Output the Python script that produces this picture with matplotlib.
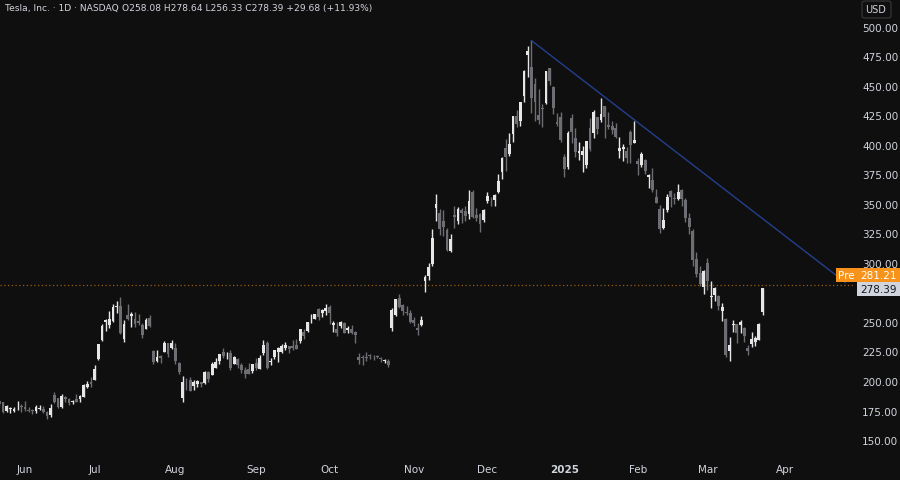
import numpy as np
import pandas as pd
import matplotlib.pyplot as plt
from matplotlib.patches import FancyBboxPatch

# daily OHLC, 22 May 2024 .. 24 Mar 2025 (one row per month in each list)
opens = [
    182.85, 181.80, 174.84, 176.40, 174.19, 178.58, 178.50,
    178.13, 174.78, 175.35, 174.60, 176.13, 176.06, 173.92, 171.12, 188.39, 185.80, 177.92, 186.56, 184.68, 182.30, 184.97, 184.40, 186.54, 195.17, 199.55,
    201.02, 218.89, 234.56, 249.81, 247.71, 251.00, 262.80, 263.30, 235.80, 255.97, 255.31, 252.73, 251.09, 247.79, 244.21, 253.60, 225.42, 216.80, 221.19, 224.90, 232.25, 227.90,
    227.69, 214.88, 185.22, 200.75, 200.77, 195.70, 197.05, 199.02, 198.47, 207.39, 205.02, 211.15, 217.07, 224.88, 222.67, 223.82, 214.46, 218.75, 213.25, 209.72, 209.80, 208.63,
    215.26, 210.59, 223.49, 232.60, 216.20, 220.07, 224.55, 224.66, 228.00, 229.30, 229.45, 230.09, 234.00, 241.52, 242.61, 254.08, 252.54, 260.60, 257.38, 259.04,
    262.67, 247.55, 244.48, 246.69, 249.00, 243.56, 243.82, 241.81, 220.13, 220.13, 220.01, 221.40, 221.59, 220.71, 218.90, 217.31, 217.13, 244.68, 256.01, 270.00, 264.51, 258.04, 257.99,
    252.04, 244.56, 247.34, 284.67, 288.89, 299.14, 346.30, 342.74, 335.85, 327.69, 310.57, 340.73, 335.76, 345.00, 343.81, 341.09, 360.14, 341.00, 341.80, 336.08,
    352.38, 351.80, 353.00, 359.87, 377.42, 397.61, 392.68, 409.70, 424.84, 420.00, 441.09, 475.90, 466.50, 451.88, 425.51, 431.00, 435.90, 465.16, 449.52, 419.40, 423.79,
    390.10, 381.48, 423.20, 405.83, 392.95, 391.40, 383.21, 414.34, 409.90, 423.49, 421.50, 432.64, 416.81, 416.06, 414.45, 394.80, 396.91, 395.21, 410.78, 401.53,
    386.68, 382.63, 387.51, 373.03, 370.19, 356.21, 345.80, 329.94, 345.00, 360.62, 355.01, 354.00, 361.51, 353.44, 338.14, 327.02, 303.71, 291.16, 279.50,
    300.34, 270.93, 272.92, 272.06, 259.32, 252.54, 225.31, 247.22, 248.13, 247.31, 245.06, 228.16, 231.61, 233.35, 234.99, 258.08,
]
highs = [
    183.80, 181.90, 180.08, 178.25, 178.15, 182.67, 180.32,
    182.64, 177.76, 176.15, 179.73, 179.35, 178.57, 174.75, 180.55, 191.08, 186.00, 188.81, 187.20, 185.21, 183.95, 188.80, 187.97, 197.76, 199.84, 203.20,
    213.23, 231.30, 248.35, 252.37, 259.44, 265.61, 267.59, 271.00, 251.84, 265.60, 258.62, 258.47, 257.14, 249.44, 253.21, 255.76, 225.99, 226.00, 222.28, 234.27, 232.41, 234.68,
    231.87, 216.13, 203.88, 202.90, 203.49, 200.70, 200.88, 199.26, 208.49, 208.44, 215.88, 219.80, 222.98, 228.22, 224.66, 225.99, 221.48, 219.09, 215.66, 211.84, 214.89, 214.57,
    219.90, 222.22, 235.00, 233.60, 219.87, 226.40, 228.47, 231.45, 232.67, 229.96, 234.57, 235.68, 244.24, 243.99, 250.00, 257.19, 257.05, 261.75, 260.70, 264.86,
    263.98, 251.16, 249.79, 250.96, 249.83, 246.21, 247.43, 242.79, 223.34, 221.91, 224.26, 222.82, 222.08, 222.28, 220.48, 218.22, 218.72, 262.12, 269.49, 273.54, 264.98, 263.35, 259.75,
    254.00, 248.90, 255.28, 289.59, 299.75, 328.71, 358.64, 345.84, 344.60, 329.98, 324.68, 348.55, 347.38, 346.60, 347.99, 361.53, 361.93, 346.96, 342.55, 345.45,
    360.00, 355.69, 358.10, 375.43, 389.49, 404.80, 409.73, 424.88, 429.30, 436.30, 463.19, 483.99, 488.54, 456.36, 447.08, 434.51, 462.78, 465.33, 450.00, 427.00, 427.93,
    392.73, 411.88, 426.43, 414.33, 402.50, 399.28, 403.79, 422.64, 429.80, 424.00, 439.74, 433.20, 428.00, 420.73, 418.88, 406.69, 400.59, 398.59, 412.50, 419.99,
    389.17, 394.00, 388.39, 375.40, 380.55, 362.70, 349.37, 346.40, 358.69, 362.00, 359.10, 367.34, 362.30, 354.98, 342.40, 328.89, 309.00, 297.23, 293.88,
    303.94, 284.35, 279.55, 272.65, 266.25, 253.37, 237.06, 251.84, 248.29, 251.58, 245.40, 230.10, 241.41, 238.00, 249.52, 278.64,
]
lows = [
    178.12, 173.26, 173.73, 173.16, 173.93, 175.38, 173.82,
    174.49, 174.00, 172.13, 172.73, 175.58, 173.17, 167.41, 169.80, 181.23, 176.92, 177.00, 182.37, 179.66, 180.69, 182.20, 182.01, 186.36, 194.20, 195.26,
    200.85, 218.06, 234.25, 242.46, 244.57, 250.30, 257.86, 239.65, 233.09, 251.73, 245.80, 246.18, 247.20, 236.83, 243.75, 245.63, 214.71, 216.23, 215.33, 224.70, 220.00, 226.79,
    214.33, 205.78, 182.00, 192.67, 191.48, 192.04, 195.11, 194.67, 197.06, 198.75, 204.82, 210.80, 214.09, 219.56, 218.86, 209.11, 214.21, 211.01, 206.94, 202.59, 205.97, 207.03,
    209.64, 210.57, 222.25, 210.51, 213.67, 218.64, 216.48, 223.83, 226.32, 223.53, 226.55, 226.88, 232.13, 235.92, 241.92, 249.05, 252.28, 251.53, 254.12, 255.77,
    248.53, 241.50, 237.81, 244.58, 240.70, 240.56, 239.51, 232.34, 214.38, 213.74, 217.12, 218.93, 217.90, 219.23, 215.73, 215.26, 212.11, 242.65, 255.32, 262.24, 255.51, 255.82, 249.25,
    246.63, 238.88, 246.21, 275.62, 285.52, 297.66, 336.00, 323.31, 322.50, 310.37, 309.22, 330.01, 332.75, 334.30, 335.28, 337.70, 338.20, 335.66, 326.59, 334.65,
    351.15, 348.20, 348.60, 359.50, 370.80, 378.01, 390.85, 402.38, 415.00, 415.71, 436.15, 457.51, 427.01, 420.02, 417.64, 415.41, 435.14, 451.02, 426.50, 415.75, 402.54,
    373.04, 379.45, 401.70, 390.00, 387.40, 377.29, 380.07, 394.54, 405.66, 409.13, 419.75, 406.31, 413.36, 408.95, 405.78, 389.00, 386.50, 384.48, 384.41, 401.34,
    374.36, 381.40, 375.53, 363.18, 360.34, 350.51, 325.10, 329.12, 342.85, 347.50, 350.02, 353.67, 348.00, 334.42, 324.70, 297.25, 288.04, 280.88, 273.60,
    277.30, 261.84, 267.71, 260.02, 250.73, 220.00, 217.02, 241.10, 232.60, 240.73, 232.80, 222.28, 229.20, 230.05, 234.55, 256.33,
]
closes = [
    180.11, 173.74, 179.24, 176.75, 176.19, 178.79, 178.08,
    176.29, 174.77, 175.00, 177.94, 177.48, 173.79, 170.66, 177.29, 182.47, 178.01, 187.44, 184.86, 181.57, 183.01, 182.58, 187.35, 196.37, 197.42, 197.88,
    209.86, 231.26, 246.39, 251.52, 252.94, 262.33, 263.26, 241.03, 248.23, 252.64, 256.56, 248.50, 249.23, 239.20, 251.51, 246.38, 215.99, 220.25, 219.80, 232.10, 222.62, 232.07,
    216.86, 207.67, 198.88, 200.64, 191.76, 198.84, 200.00, 197.49, 207.83, 201.38, 214.14, 216.12, 222.72, 221.10, 223.27, 210.66, 220.32, 213.21, 209.21, 205.75, 206.28, 214.11,
    210.60, 219.41, 230.17, 210.73, 216.27, 226.17, 228.13, 229.81, 230.29, 226.78, 227.87, 227.20, 243.92, 238.25, 250.00, 254.27, 257.02, 254.22, 260.46, 261.63,
    258.02, 249.02, 240.66, 250.08, 240.83, 244.50, 241.05, 238.77, 217.80, 219.16, 219.57, 221.33, 220.89, 220.70, 218.85, 217.97, 213.65, 260.48, 269.19, 262.51, 259.52, 257.55, 249.85,
    248.98, 242.84, 251.44, 288.53, 296.91, 321.22, 350.00, 328.49, 330.24, 311.18, 320.72, 338.74, 346.00, 342.03, 339.64, 352.56, 338.59, 338.23, 332.89, 345.16,
    357.09, 351.42, 357.93, 369.49, 389.22, 389.79, 400.99, 424.77, 418.10, 436.23, 463.02, 479.86, 440.13, 436.17, 421.06, 430.60, 462.28, 454.13, 431.66, 417.41, 403.84,
    379.28, 410.44, 411.05, 394.36, 394.94, 394.74, 403.31, 396.36, 428.22, 413.82, 426.50, 424.07, 415.11, 412.38, 406.58, 397.15, 398.09, 389.10, 400.28, 404.60,
    383.68, 392.21, 378.17, 374.32, 361.62, 350.73, 328.50, 336.51, 355.94, 355.84, 354.11, 360.56, 354.40, 337.80, 330.53, 302.80, 290.80, 281.95, 292.98,
    284.65, 272.04, 279.10, 263.45, 262.67, 222.15, 230.58, 248.09, 240.68, 249.98, 238.01, 225.31, 235.86, 236.26, 248.71, 278.39,
]

holidays = ["2024-05-27", "2024-06-19", "2024-07-04", "2024-09-02", "2024-11-28",
            "2024-12-25", "2025-01-01", "2025-01-09", "2025-01-20", "2025-02-17"]
dates = pd.bdate_range("2024-05-22", "2025-03-24")
dates = dates[~dates.isin(pd.to_datetime(holidays))]

month_labels = ["Jun", "Jul", "Aug", "Sep", "Oct", "Nov", "Dec", "2025", "Feb", "Mar", "Apr"]
price_ticks = [150, 175, 200, 225, 250, 300, 325, 350, 375, 400, 425, 450, 475, 500]  # 275 hidden by last-price tag

pre_price = 281.21
trend_start = ("2024-12-18", 488.54)
trend_end_price = 283.5
name_txt = "Tesla, Inc. · 1D · NASDAQ"
ohlc_txt = "O258.08 H278.64 L256.33 C278.39 +29.68 (+11.93%)"

o = np.array(opens); h = np.array(highs); l = np.array(lows); c = np.array(closes)
assert len(o) == len(dates) == len(c)

# bar index, Jun 3 2024 = 0
x = np.arange(len(dates)) - int(np.argmax(dates >= "2024-06-03"))

BG = "#0f0f0f"
UP = "#e6e6e6"
DOWN = "#6c6e74"
TXT = "#d1d4dc"

fig = plt.figure(figsize=(9, 4.81), dpi=100, facecolor=BG)
ax = fig.add_axes([0, 23 / 481, 855 / 900, 458 / 481])
ax.set_facecolor(BG)

up = c >= o
cols = np.where(up, UP, DOWN)
ax.vlines(x, l, h, colors=cols, linewidth=1.0, zorder=2)
body_lo = np.minimum(o, c)
body_h = np.maximum(np.abs(c - o), 0.5)
ax.bar(x, body_h, bottom=body_lo, width=0.78, color=cols, linewidth=0, zorder=3)

# trend line from the December high
x0 = x[list(dates).index(pd.Timestamp(trend_start[0]))]
ax.plot([x0, 223.6], [trend_start[1], trend_end_price], color="#23408e", lw=1.0, zorder=4)

# pre-market price line
ax.axhline(pre_price, color="#f7931a", alpha=0.6, lw=0.9, ls=(0, (1, 2)), zorder=1)

ax.set_xlim(-6.8, 226.2)
ax.set_ylim(135.6, 523.7)

# month ticks at the first trading day of each month
mstart = [0]
for i in range(1, len(dates)):
    if dates[i].month != dates[i - 1].month:
        mstart.append(i)
mx = list(x[mstart[1:]])  # skip partial May
mx.append(x[-1] + 6)  # Apr 1
ax.set_xticks(mx)
ax.set_xticklabels(month_labels)
for lab in ax.get_xticklabels():
    if lab.get_text() == "2025":
        lab.set_fontweight("bold")

ax.yaxis.tick_right()
ax.set_yticks(price_ticks)
ax.set_yticklabels([f"{v:.2f}" for v in price_ticks])
ax.tick_params(axis="both", length=0, colors=TXT, labelsize=7.5)
ax.tick_params(axis="y", pad=5)
ax.tick_params(axis="x", pad=5)
for s in ax.spines.values():
    s.set_visible(False)

# header
fig.text(5 / 900, 1 - 9 / 481, name_txt, color=TXT, fontsize=6.6, va="center", ha="left")
fig.text(122 / 900, 1 - 9 / 481, ohlc_txt, color=TXT, fontsize=6.6, va="center", ha="left")

# USD box
fig.patches.append(FancyBboxPatch((862 / 900, 1 - 19 / 481), 29 / 900, 17 / 481,
                                  boxstyle="round,pad=0,rounding_size=0.004",
                                  transform=fig.transFigure, facecolor=BG,
                                  edgecolor="#3a3a3a", lw=0.8))
fig.text(876 / 900, 1 - 10 / 481, "USD", color=TXT, fontsize=7, ha="center", va="center")

# price labels on the scale
def scale_label(x0p, y0p, w, hgt, text, fc, tc):
    fig.patches.append(FancyBboxPatch((x0p / 900, 1 - (y0p + hgt) / 481), w / 900, hgt / 481,
                                      boxstyle="square,pad=0", transform=fig.transFigure,
                                      facecolor=fc, edgecolor="none"))
    fig.text((x0p + w / 2) / 900, 1 - (y0p + hgt / 2) / 481, text, color=tc,
             fontsize=7.5, ha="center", va="center")

scale_label(836, 269, 21, 14, "Pre", "#f7931a", "#ffffff")
scale_label(857, 269, 43, 14, f"{pre_price:.2f}", "#f7931a", "#ffffff")
scale_label(857, 283, 43, 14, f"{closes[-1]:.2f}", "#d1d4dc", "#131722")

fig.savefig("out.png", dpi=100, facecolor=BG)
